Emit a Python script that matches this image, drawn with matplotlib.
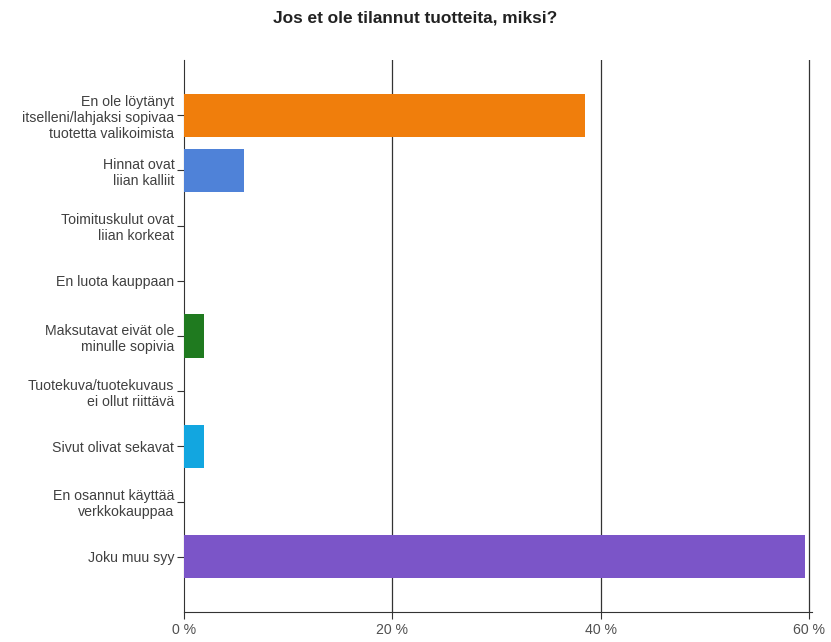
import numpy as np
import matplotlib
matplotlib.use("Agg")
import matplotlib.pyplot as plt

plt.rcParams['font.family'] = ['Liberation Sans', 'DejaVu Sans']

# Answer categories (top to bottom) and share of respondents (%)
categories = [
    "En ole löytänyt\nitselleni/lahjaksi sopivaa\ntuotetta valikoimista",
    "Hinnat ovat\nliian kalliit",
    "Toimituskulut ovat\nliian korkeat",
    "En luota kauppaan",
    "Maksutavat eivät ole\nminulle sopivia",
    "Tuotekuva/tuotekuvaus\nei ollut riittävä",
    "Sivut olivat sekavat",
    "En osannut käyttää\nverkkokauppaa",
    "Joku muu syy",
]
values = [38.5, 5.8, 0, 0, 1.9, 0, 1.9, 0, 59.6]
colors = ['#F07E0C', '#4F82D8', '#8B8B00', '#C03030', '#1F7A1F',
          '#999999', '#12A6E0', '#D0A000', '#7B55C8']
x_ticks = [0, 20, 40, 60]
x_tick_labels = ["0 %", "20 %", "40 %", "60 %"]

fig = plt.figure(figsize=(8.31, 6.42), dpi=100)
ax = fig.add_axes([0.2214, 0.0467, 0.7556, 0.8598])

y = np.arange(len(categories))
ax.barh(y, values, height=0.78, color=colors, zorder=3)

ax.set_ylim(len(categories), -1)
ax.set_xlim(0, 60.3)
ax.set_yticks(y)
ax.set_yticklabels(categories, fontsize=10.2, color='#404040', linespacing=1.2)
ax.set_xticks(x_ticks)
ax.set_xticklabels(x_tick_labels, fontsize=10.2, color='#505050')
ax.tick_params(axis='y', length=5, color='#333333', pad=2)
ax.tick_params(axis='x', length=5, color='#333333', pad=3)

for xt in x_ticks[1:]:
    ax.axvline(xt, color='#333333', linewidth=0.9, zorder=1)

for side in ['top', 'right']:
    ax.spines[side].set_visible(False)
ax.spines['left'].set_color('#333333')
ax.spines['bottom'].set_color('#333333')

fig.text(0.5, 0.972, "Jos et ole tilannut tuotteita, miksi?", ha='center', va='center',
         fontsize=12.4, fontweight='bold', color='#222222')

plt.savefig("out.png", dpi=100)
